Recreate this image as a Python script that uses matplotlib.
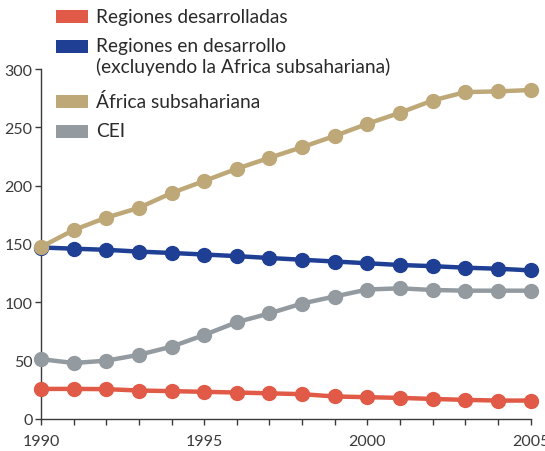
import matplotlib.pyplot as plt
from matplotlib.patches import Rectangle

plt.rcParams['font.family'] = ['Lato', 'DejaVu Sans']

years = list(range(1990, 2006))

desarrolladas = [25.8, 25.8, 25.6, 24.4, 23.9, 23.3, 22.7, 22, 21.3, 19.3, 18.7, 18.1, 17.2, 16.4, 15.8, 15.8]
en_desarrollo = [147, 146, 145, 143.5, 142.3, 141, 139.6, 138, 136.5, 135, 133.5, 132, 131, 129.7, 128.8, 127.4]
africa = [147.4, 162, 172.6, 181, 193.7, 204, 214.5, 223.9, 233, 242.6, 253, 262.5, 273, 280.2, 280.8, 282]
cei = [51.3, 48, 50, 55, 62, 72, 83, 90.5, 99, 105, 111, 112, 110.6, 110, 110, 110]

labels = ['Regiones desarrolladas',
          'Regiones en desarrollo\n(excluyendo la Africa subsahariana)',
          'África subsahariana',
          'CEI']
colors = ['#E05A47', '#1E3F94', '#BFA878', '#939BA0']
series = [desarrolladas, en_desarrollo, africa, cei]

W, H = 545, 452
fig = plt.figure(figsize=(W / 100, H / 100), dpi=100)
ax = fig.add_axes([41 / W, 32 / H, 489.5 / W, 350 / H])

for vals, c in zip(series, colors):
    ax.plot(years, vals, color=c, lw=3.2, marker='o', markersize=10,
            clip_on=False, solid_capstyle='round', zorder=3)

ax.set_xlim(1990, 2005)
ax.set_ylim(0, 300)
ax.set_xticks([1990, 1995, 2000, 2005])
ax.set_xticks(years, minor=True)
ax.set_yticks(range(0, 301, 50))
for s in ['top', 'right']:
    ax.spines[s].set_visible(False)
for s in ['left', 'bottom']:
    ax.spines[s].set_color('#3a3a3a')
    ax.spines[s].set_linewidth(1.0)
ax.tick_params(axis='both', which='both', length=4, width=1.0, color='#3a3a3a',
               labelsize=11.5, labelcolor='#3a3a3a')
ax.tick_params(axis='x', pad=7)
ax.tick_params(axis='y', pad=2)

# legend drawn by hand (patch aligned with first text line)
patch_y = [17.5, 47.3, 102.5, 132.5]
for c, lab, py in zip(colors, labels, patch_y):
    fig.add_artist(Rectangle((56 / W, 1 - (py + 6.5) / H), 32 / W, 13 / H,
                             transform=fig.transFigure, facecolor=c, edgecolor='none'))
    fig.text(96.5 / W, 1 - (py - 9) / H, lab, fontsize=13.8, color='#2a2a2a',
             va='top', ha='left', linespacing=1.2)

fig.savefig('out.png', dpi=100)
